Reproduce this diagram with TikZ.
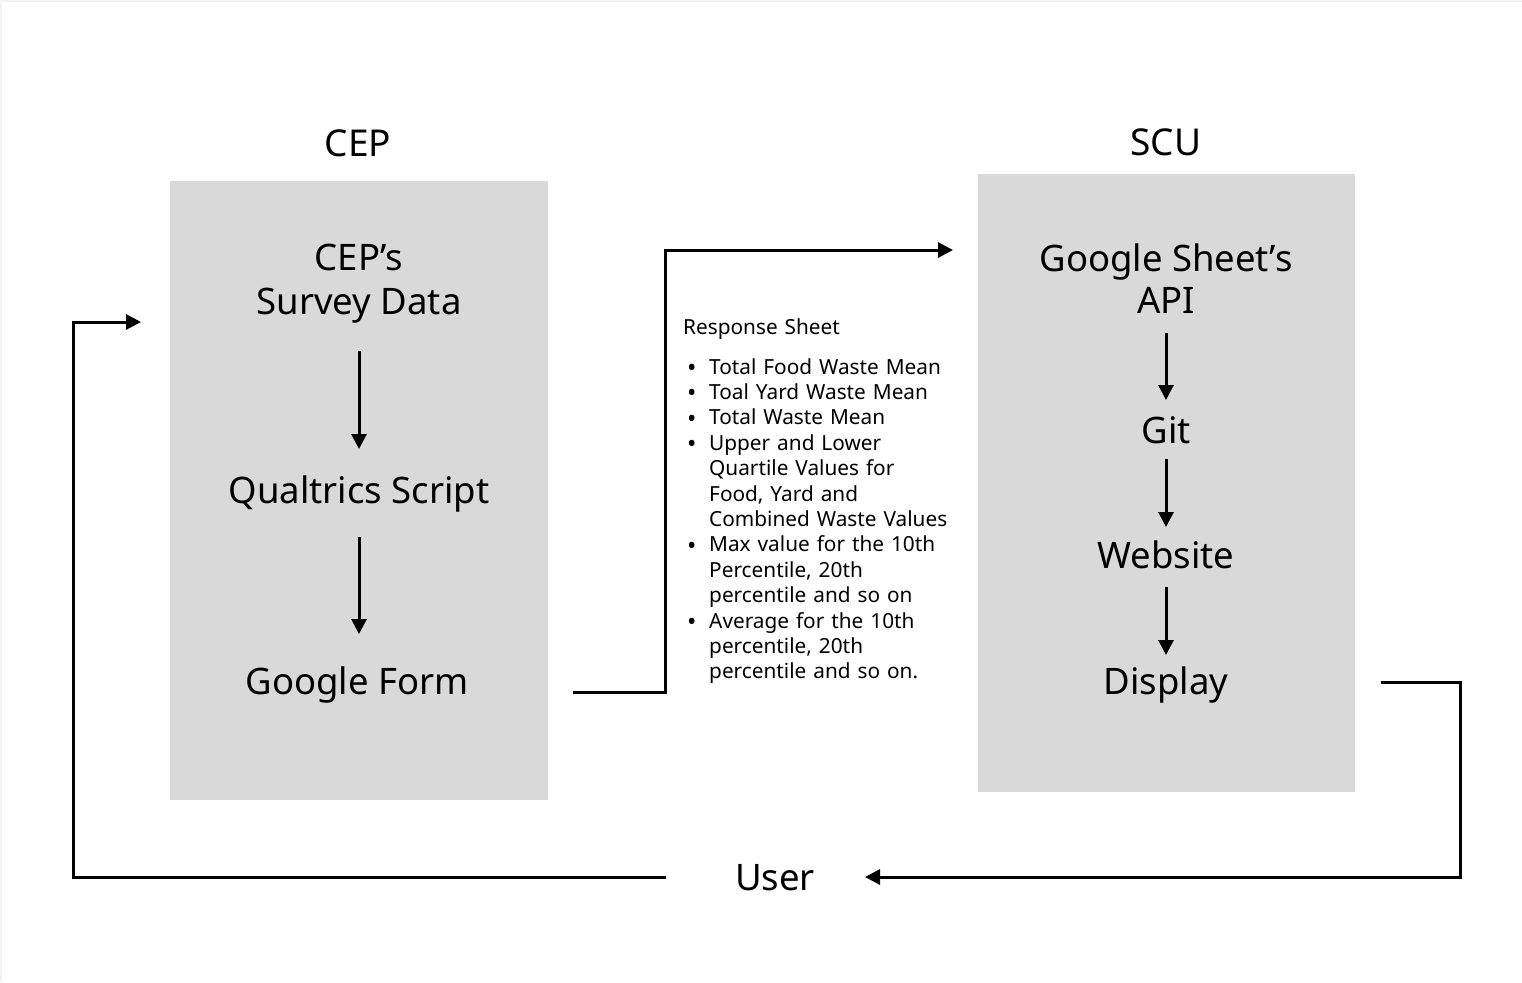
\documentclass[tikz,border=0pt]{standalone}
\usepackage{fontspec}
\setmainfont{Noto Sans}
\usetikzlibrary{arrows.meta}
\definecolor{boxgray}{HTML}{D9D9D9}
\definecolor{framegray}{HTML}{F2F2F2}
\begin{document}
\begin{tikzpicture}[x=1pt,y=-1pt,
  big/.style={font=\fontsize{36.5}{42}\selectfont, inner sep=0pt, anchor=base},
  ttl/.style={font=\fontsize{37}{42}\selectfont, inner sep=0pt, anchor=base},
  panel/.style={fill=boxgray, draw=none, inner sep=0pt},
  conn/.style={line width=3pt, -{Triangle[length=15pt,width=15pt]}},
  small/.style={font=\fontsize{20.8}{25.4}\selectfont, inner sep=0pt},
  ]
\useasboundingbox (0,0) rectangle (1522,982);
\fill[white] (0,0) rectangle (1522,982);
\draw[line width=2pt, framegray] (1,982) -- (1,1) -- (1522,1);

% panels
\node[panel, minimum width=378pt, minimum height=619pt] (cepbox) at (359,490.5) {};
\node[panel, minimum width=377pt, minimum height=618pt] (scubox) at (1166.5,483) {};

% titles
\node[ttl] (cep) at (358,156) {CEP};
\node[ttl] (scu) at (1166,155) {SCU};

% left column
\node[big] (cepA) at (359,270) {CEP’s};
\node[big] (cepB) at (359,314) {Survey Data};
\node[big] (qual) at (359,503) {Qualtrics Script};
\node[big] (gform) at (357,694) {Google Form};

% right column
\node[big] (gsA) at (1166,271) {Google Sheet’s};
\node[big] (gsB) at (1166,313) {API};
\node[big] (git) at (1166,443) {Git};
\node[big] (web) at (1166,568) {Website};
\node[big] (disp) at (1166,694) {Display};

% user
\node[big] (user) at (775,890) {User};

% response sheet text
\node[small, anchor=base west, text width=300pt, align=left] (resp) at (683,334) {%
\def\bul{\makebox[26pt][l]{\hspace{4pt}\raisebox{-2.5pt}{\scalebox{1.2}{•}}}}%
\def\itm#1{\noindent\bul #1\par}%
\def\cnt#1{\noindent\hspace*{26pt}#1\par}%
Response Sheet\par\vspace{14.6pt}
\itm{Total Food Waste Mean}
\itm{Toal Yard Waste Mean}
\itm{Total Waste Mean}
\itm{Upper and Lower}
\cnt{Quartile Values for}
\cnt{Food, Yard and}
\cnt{Combined Waste Values}
\itm{Max value for the 10th}
\cnt{Percentile, 20th}
\cnt{percentile and so on}
\itm{Average for the 10th}
\cnt{percentile, 20th}
\cnt{percentile and so on.}};

% inner arrows
\coordinate (a1s) at (359,351); \coordinate (a1e) at (359,449);
\coordinate (a2s) at (359,537); \coordinate (a2e) at (359,634);
\coordinate (b1s) at (1166,333); \coordinate (b1e) at (1166,400);
\coordinate (b2s) at (1166,459); \coordinate (b2e) at (1166,527);
\coordinate (b3s) at (1166,587); \coordinate (b3e) at (1166,655);
\draw[conn] (a1s) -- (a1e);
\draw[conn] (a2s) -- (a2e);
\draw[conn] (b1s) -- (b1e);
\draw[conn] (b2s) -- (b2e);
\draw[conn] (b3s) -- (b3e);

% outer connectors
\coordinate (f1) at (573,692); \coordinate (f2) at (953,250);
\draw[conn] (f1) -- ++(92,0) |- (f2);
\coordinate (d1) at (1381,682); \coordinate (u1) at (865,877);
\draw[conn] (d1) -- ++(79,0) |- (u1);
\coordinate (u2) at (666,877); \coordinate (c1) at (141,322);
\draw[conn] (u2) -- ++(-593,0) |- (c1);
\end{tikzpicture}
\end{document}
